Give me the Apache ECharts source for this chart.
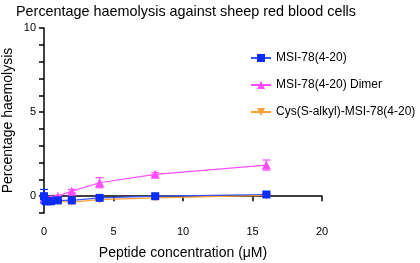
<!DOCTYPE html>
<html><head><meta charset="utf-8">
<script src="https://cdn.jsdelivr.net/npm/echarts@6/dist/echarts.min.js"></script>
<style>html,body{margin:0;padding:0;background:#fff}#c{width:420px;height:263px}</style>
</head><body><div id="c"></div>
<script>
var concentrations = [0, 0.125, 0.25, 0.5, 1, 2, 4, 8, 16];
var msi78 = [0.0, -0.3, -0.3, -0.3, -0.25, -0.25, -0.1, 0.0, 0.1];
var msi78Err = [0.4, 0.1, 0.1, 0.1, 0.05, 0.05, 0.05, 0.05, 0.05];
var dimer = [-0.1, -0.2, -0.2, -0.15, 0.0, 0.3, 0.8, 1.3, 1.85];
var dimerErr = [0.1, 0.1, 0.1, 0.1, 0.05, 0.1, 0.3, 0.1, 0.3];
var cys = [-0.1, -0.35, -0.35, -0.35, -0.3, -0.35, -0.2, -0.1, 0.05];
var cysErr = [0.1, 0.1, 0.1, 0.1, 0.1, 0.1, 0.05, 0.1, 0.05];
var seriesNames = ['MSI-78(4-20)', 'MSI-78(4-20) Dimer', 'Cys(S-alkyl)-MSI-78(4-20)'];
var colors = ['#0a2cff', '#ff4dff', '#ff9f3a'];
var xTicks = [0, 5, 10, 15, 20];
var yLabels = [0, 5, 10];

function pairs(ys){ return concentrations.map(function(x,i){return [x, ys[i]];}); }
function errData(ys, es){ return concentrations.map(function(x,i){return [x, ys[i]-es[i], ys[i]+es[i]];}); }
function errSeries(ys, es, color, z){
  return {
    type:'custom', silent:true, z:z, data: errData(ys, es),
    renderItem: function(params, api){
      var lo = api.coord([api.value(0), api.value(1)]);
      var hi = api.coord([api.value(0), api.value(2)]);
      var w = 4;
      return {type:'group', children:[
        {type:'line', shape:{x1:lo[0],y1:lo[1],x2:hi[0],y2:hi[1]}, style:{stroke:color,lineWidth:1.2}},
        {type:'line', shape:{x1:hi[0]-w,y1:hi[1],x2:hi[0]+w,y2:hi[1]}, style:{stroke:color,lineWidth:1.2}},
        {type:'line', shape:{x1:lo[0]-w,y1:lo[1],x2:lo[0]+w,y2:lo[1]}, style:{stroke:color,lineWidth:1.2}}
      ]};
    }
  };
}
var font = 'Liberation Sans, Arial, sans-serif';
var chart = echarts.init(document.getElementById('c'), null, {renderer:'canvas'});
chart.setOption({
  animation:false,
  textStyle:{fontFamily:font},
  title:{text:'Percentage haemolysis against sheep red blood cells', left:11, top:0,
    textStyle:{fontFamily:font, fontSize:14.4, fontWeight:'normal', color:'#000'}},
  legend:{orient:'vertical', left:245, top:47, itemGap:15, itemWidth:20, itemHeight:10,
    data: seriesNames,
    textStyle:{fontFamily:font, fontSize:12, color:'#000'}},
  grid:{left:44, right:98, top:28, bottom:50, containLabel:false, outerBoundsMode:'none'},
  xAxis:{type:'value', min:0, max:20, interval:5,
    name:'Peptide concentration (\u03bcM)', nameLocation:'middle', nameGap:33, nameMoveOverlap:false,
    nameTextStyle:{fontFamily:font, fontSize:14, color:'#000'},
    axisLine:{lineStyle:{color:'#000', width:1.5}},
    axisTick:{length:5, lineStyle:{color:'#000', width:1.5}},
    axisLabel:{fontFamily:font, fontSize:11, color:'#000', margin:13},
    splitLine:{show:false}},
  yAxis:{type:'value', min:-1, max:10, interval:1,
    name:'Percentage haemolysis', nameLocation:'middle', nameGap:29, nameMoveOverlap:false,
    nameTextStyle:{fontFamily:font, fontSize:14, color:'#000'},
    axisLine:{onZero:false, lineStyle:{color:'#000', width:1.5}},
    axisTick:{length:5, lineStyle:{color:'#000', width:1.5}},
    axisLabel:{fontFamily:font, fontSize:11, color:'#000', margin:8,
      formatter:function(v){ return yLabels.indexOf(v) >= 0 ? String(v) : ''; }},
    splitLine:{show:false}},
  series:[
    errSeries(cys, cysErr, colors[2], 1),
    {name:seriesNames[2], type:'line', z:2, data:pairs(cys), symbol:'triangle', symbolRotate:180, symbolSize:8,
      itemStyle:{color:colors[2]}, lineStyle:{color:colors[2], width:1.2}},
    errSeries(dimer, dimerErr, colors[1], 3),
    {name:seriesNames[1], type:'line', z:4, data:pairs(dimer), symbol:'triangle', symbolSize:9,
      itemStyle:{color:colors[1]}, lineStyle:{color:colors[1], width:1.2}},
    errSeries(msi78, msi78Err, colors[0], 5),
    {name:seriesNames[0], type:'line', z:6, data:pairs(msi78), symbol:'rect', symbolSize:8,
      itemStyle:{color:colors[0]}, lineStyle:{color:'#3a55ff', width:1.2}}
  ]
});
</script></body></html>
